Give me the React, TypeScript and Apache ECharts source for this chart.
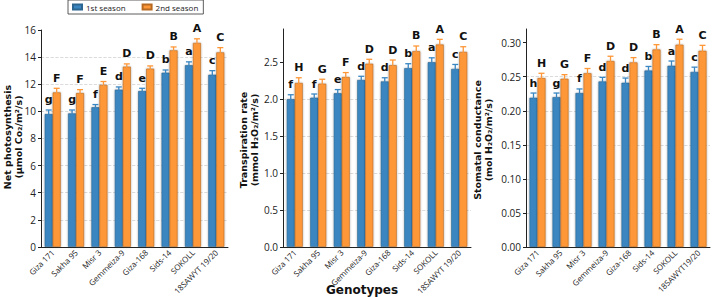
import React, { useEffect, useRef } from "react";
import * as echarts from "echarts";

const genotypes = ["Giza 171", "Sakha 95", "Misr 3", "Gemmeiza-9", "Giza-168", "Sids-14", "SOKOLL", "18SAWYT 19/20"];
const genotypes3 = ["Giza 171", "Sakha 95", "Misr 3", "Gemmeiza-9", "Giza-168", "Sids-14", "SOKOLL", "18SAWYT19/20"];
const seasons = ["1st season", "2nd season"];

// Net photosynthesis
const pnS1 = [9.8, 9.85, 10.3, 11.6, 11.5, 12.85, 13.4, 12.7];
const pnS2 = [11.4, 11.35, 11.95, 13.3, 13.15, 14.5, 15.05, 14.35];
const pnE1 = [0.3, 0.25, 0.2, 0.2, 0.2, 0.2, 0.25, 0.3];
const pnE2 = [0.3, 0.25, 0.25, 0.2, 0.2, 0.25, 0.3, 0.35];
const pnL1 = ["g", "g", "f", "d", "e", "b", "a", "c"];
const pnL2 = ["F", "F", "E", "D", "D", "B", "A", "C"];

// Transpiration rate
const trS1 = [2.0, 2.02, 2.08, 2.26, 2.24, 2.42, 2.5, 2.41];
const trS2 = [2.22, 2.21, 2.3, 2.48, 2.46, 2.65, 2.74, 2.64];
const trE1 = [0.06, 0.05, 0.05, 0.05, 0.05, 0.06, 0.06, 0.06];
const trE2 = [0.07, 0.06, 0.06, 0.06, 0.07, 0.07, 0.07, 0.07];
const trL1 = ["f", "f", "e", "d", "d", "b", "a", "c"];
const trL2 = ["H", "G", "F", "D", "D", "B", "A", "C"];

// Stomatal conductance
const scS1 = [0.219, 0.22, 0.226, 0.243, 0.241, 0.259, 0.266, 0.257];
const scS2 = [0.248, 0.247, 0.255, 0.273, 0.271, 0.29, 0.297, 0.288];
const scE1 = [0.007, 0.006, 0.006, 0.006, 0.007, 0.006, 0.007, 0.007];
const scE2 = [0.007, 0.006, 0.007, 0.007, 0.007, 0.007, 0.008, 0.008];
const scL1 = ["h", "g", "f", "d", "d", "b", "a", "c"];
const scL2 = ["H", "G", "F", "D", "D", "B", "A", "C"];

const BLUE = "#3a86c1";
const ORANGE = "#fd9738";
const BW = 8;

export default function App() {
  const ref = useRef<HTMLDivElement>(null);
  useEffect(() => {
    const chart = echarts.init(ref.current!, null, { renderer: "svg" });

    const grids = [
      { left: 41, width: 187, top: 30, height: 217 },
      { left: 283, width: 188, top: 29, height: 218 },
      { left: 526, width: 184, top: 29, height: 218 },
    ];
    const yCfg = [
      { max: 16, interval: 2, dec: 0 },
      { max: 2.95, interval: 0.5, dec: 1 },
      { max: 0.32, interval: 0.05, dec: 2 },
    ];
    const cats = [genotypes, genotypes, genotypes3];
    const panels = [
      { s1: pnS1, s2: pnS2, e1: pnE1, e2: pnE2, l1: pnL1, l2: pnL2 },
      { s1: trS1, s2: trS2, e1: trE1, e2: trE2, l1: trL1, l2: trL2 },
      { s1: scS1, s2: scS2, e1: scE1, e2: scE2, l1: scL1, l2: scL2 },
    ];

    const xAxis = cats.map((c, i) => ({
      type: "category",
      gridIndex: i,
      data: c,
      axisLine: { lineStyle: { color: "#222", width: 1 } },
      axisTick: { alignWithLabel: true, length: 3, lineStyle: { color: "#222" } },
      axisLabel: { rotate: 45, fontSize: 8, color: "#222", margin: 4, fontFamily: "Open Sans", interval: 0 },
      splitLine: { show: false },
    }));

    const yAxis = yCfg.map((y, i) => {
      const ticks: number[] = [];
      const n = Math.floor(y.max / y.interval + 1e-6);
      for (let k = 0; k <= n; k++) ticks.push(+(k * y.interval).toFixed(4));
      return {
        type: "value",
        gridIndex: i,
        min: 0,
        max: y.max,
        interval: y.interval,
        axisLine: { show: true, lineStyle: { color: "#222", width: 1 } },
        axisTick: { show: true, length: 3, lineStyle: { color: "#222" }, customValues: ticks },
        axisLabel: {
          fontSize: 10,
          color: "#222",
          margin: 5,
          fontFamily: "Open Sans",
          customValues: ticks,
          formatter: (v: number) => v.toFixed(y.dec),
        },
        splitLine: { show: true, showMaxLine: false, lineStyle: { color: "#d2d2d2", type: "dashed", width: 0.8 } },
      };
    });

    const series: any[] = [];
    panels.forEach((p, gi) => {
      [p.s1, p.s2].forEach((vals, si) => {
        series.push({
          type: "bar",
          name: seasons[si],
          xAxisIndex: gi,
          yAxisIndex: gi,
          data: vals,
          barWidth: BW,
          barGap: "0%",
          itemStyle: {
            color: si === 0 ? BLUE : ORANGE,
            borderColor: si === 0 ? "#2c6590" : "#b86a22",
            borderWidth: 0.6,
            shadowColor: "rgba(0,0,0,0.35)",
            shadowBlur: 2,
          },
        });
      });
      [
        { v: p.s1, e: p.e1, l: p.l1, off: -BW / 2, col: BLUE },
        { v: p.s2, e: p.e2, l: p.l2, off: BW / 2, col: ORANGE },
      ].forEach((s) => {
        series.push({
          type: "custom",
          xAxisIndex: gi,
          yAxisIndex: gi,
          z: 5,
          data: s.v.map((v, i) => [i, v, s.e[i]]),
          encode: { x: 0, y: 1 },
          renderItem: (params: any, api: any) => {
            const i = api.value(0);
            const v = api.value(1);
            const e = api.value(2);
            const c = api.coord([i, v]);
            const x = c[0] + s.off;
            const top = api.coord([i, v + e])[1];
            const bot = api.coord([i, v - e])[1];
            const ls = { stroke: s.col, lineWidth: 1.3 };
            return {
              type: "group",
              children: [
                { type: "line", shape: { x1: x, y1: top, x2: x, y2: bot }, style: ls },
                { type: "line", shape: { x1: x - 3, y1: top, x2: x + 3, y2: top }, style: ls },
                { type: "line", shape: { x1: x - 3, y1: bot, x2: x + 3, y2: bot }, style: ls },
                {
                  type: "text",
                  x: x,
                  y: top - 10,
                  style: {
                    text: s.l[params.dataIndex],
                    fill: "#111",
                    font: "bold 11px 'DejaVu Sans'",
                    align: "center",
                    verticalAlign: "middle",
                  },
                },
              ],
            };
          },
        });
      });
    });

    const titleFont = "bold 9.5px 'DejaVu Sans'";
    const yTitle = (x: number, y: number, l1: string, l2: string) => ({
      type: "text",
      x,
      y,
      rotation: Math.PI / 2,
      style: {
        text: l1 + "\n" + l2,
        font: titleFont,
        fill: "#111",
        align: "center",
        verticalAlign: "middle",
        lineHeight: 11,
      },
    });

    chart.setOption({
      animation: false,
      grid: grids,
      xAxis,
      yAxis,
      legend: {
        data: seasons,
        left: 68,
        top: 0,
        itemWidth: 9,
        itemHeight: 5,
        itemGap: 16,
        padding: [3, 5, 3, 4],
        borderColor: "#333",
        borderWidth: 0.8,
        icon: "rect",
        textStyle: { fontSize: 8, fontFamily: "Open Sans", color: "#222", padding: [0, 0, 0, -1] },
      },
      graphic: [
        yTitle(13, 137, "Net photosynthesis", "(µmol Co₂/m²/s)"),
        yTitle(249, 140, "Transpiration rate", "(mmol H₂O₂/m²/s)"),
        yTitle(483, 140, "Stomatal conductance", "(mol H₂O₂/m²/s)"),
        {
          type: "text",
          x: 362,
          y: 290,
          style: { text: "Genotypes", font: "bold 12px 'DejaVu Sans'", fill: "#111", align: "center", verticalAlign: "middle" },
        },
      ],
      series,
    });
    return () => chart.dispose();
  }, []);
  return <div ref={ref} style={{ position: "fixed", left: 0, top: 0, width: 715, height: 297, background: "#fff" }} />;
}
